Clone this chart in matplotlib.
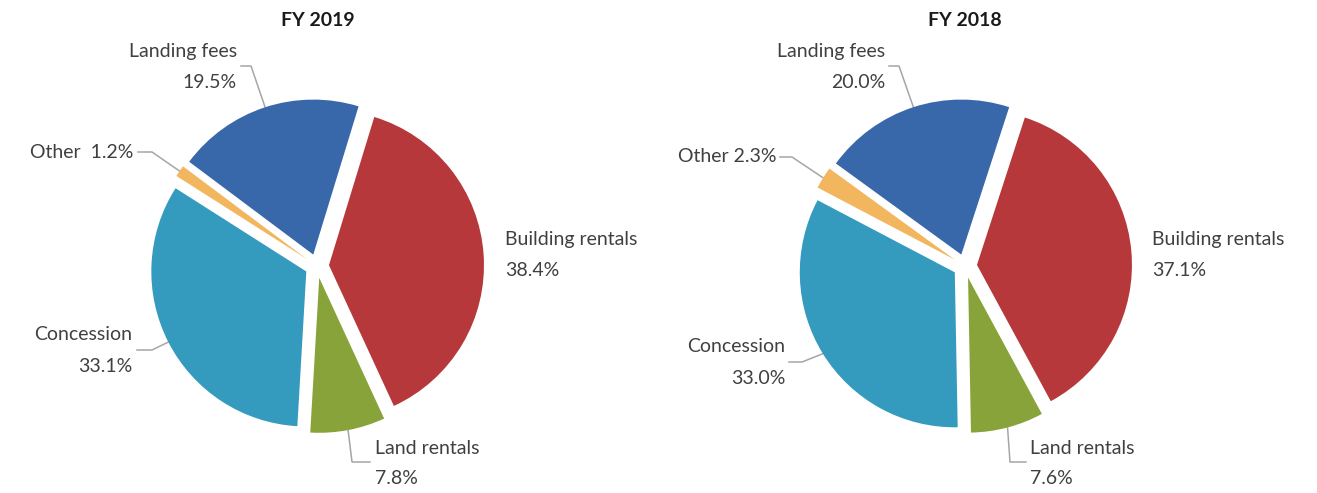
import matplotlib.pyplot as plt
import numpy as np

plt.rcParams['font.family'] = ['Lato', 'DejaVu Sans']

# slice order clockwise from the building/landing gap
categories = ['Building rentals', 'Land rentals', 'Concession', 'Other', 'Landing fees']
fy2019 = [38.4, 7.8, 33.1, 1.2, 19.5]
fy2018 = [37.1, 7.6, 33.0, 2.3, 20.0]
titles = ['FY 2019', 'FY 2018']
colors = ['#B7383A', '#87A33A', '#349BBF', '#F2B65E', '#3868AA']

W, H = 1317, 493
fig = plt.figure(figsize=(W / 100, H / 100), dpi=100)
ax = fig.add_axes([0, 0, 1, 1])


def py(y):
    # pixel row (from top) -> data y
    return H - y


txt_color = '#404040'
line_color = '#A6A6A6'
fs = 14

# per pie: center, start angle, label layout (pixel coords from top)
layouts = [
    dict(center=(317, 266), start=73, title_x=318,
         labels={
             'Building rentals': dict(x=505, y=240, ha='left', two=True),
             'Land rentals': dict(x=375, y=448, ha='left', two=True,
                                  elbow=[(352, 462), (370, 462)]),
             'Concession': dict(x=132, y=335, ha='right', two=True,
                                elbow=[(152, 350), (137, 350)]),
             'Other': dict(x=133, y=153, ha='right', two=False, sep='  ',
                           elbow=[(152, 152), (138, 152)]),
             'Landing fees': dict(x=237, y=52, ha='right', two=True,
                                  elbow=[(251, 66), (241, 66)]),
         }),
    dict(center=(965, 266), start=72, title_x=965,
         labels={
             'Building rentals': dict(x=1152, y=240, ha='left', two=True),
             'Land rentals': dict(x=1030, y=448, ha='left', two=True,
                                  elbow=[(1010, 462), (1026, 462)]),
             'Concession': dict(x=785, y=347, ha='right', two=True,
                                elbow=[(802, 362), (789, 362)]),
             'Other': dict(x=776, y=157, ha='right', two=False, sep=' ',
                           elbow=[(792, 157), (780, 157)]),
             'Landing fees': dict(x=885, y=52, ha='right', two=True,
                                  elbow=[(899, 66), (889, 66)]),
         }),
]

for vals, title, lay in zip([fy2019, fy2018], titles, layouts):
    cx, cy = lay['center']
    # explode is in data units (pixels here)
    wedges, _ = ax.pie(vals, explode=[12] * len(vals), colors=colors,
                       startangle=lay['start'], counterclock=False,
                       center=(cx, py(cy)), radius=155,
                       wedgeprops=dict(linewidth=0))
    for w, name, v in zip(wedges, categories, vals):
        lab = lay['labels'][name]
        pct = f'{v:.1f}%'
        if lab['two']:
            ax.text(lab['x'], py(lab['y']), name, ha=lab['ha'], va='center',
                    fontsize=fs, color=txt_color)
            ax.text(lab['x'], py(lab['y'] + 31), pct, ha=lab['ha'], va='center',
                    fontsize=fs, color=txt_color)
        else:
            ax.text(lab['x'], py(lab['y']), name + lab['sep'] + pct,
                    ha=lab['ha'], va='center', fontsize=fs, color=txt_color)
        if 'elbow' in lab:
            mid = np.deg2rad((w.theta1 + w.theta2) / 2)
            x0 = w.center[0] + w.r * np.cos(mid)
            y0 = w.center[1] + w.r * np.sin(mid)
            xs = [x0] + [p[0] for p in lab['elbow']]
            ys = [y0] + [py(p[1]) for p in lab['elbow']]
            ax.plot(xs, ys, color=line_color, lw=1.1, zorder=0.5)
    ax.text(lay['title_x'], py(20), title, ha='center', va='center',
            fontsize=14, fontweight='bold', color='#1a1a1a')

ax.set_xlim(0, W)
ax.set_ylim(0, H)
ax.set_aspect('equal')
ax.axis('off')

fig.savefig('out.png', dpi=100, facecolor='white')
